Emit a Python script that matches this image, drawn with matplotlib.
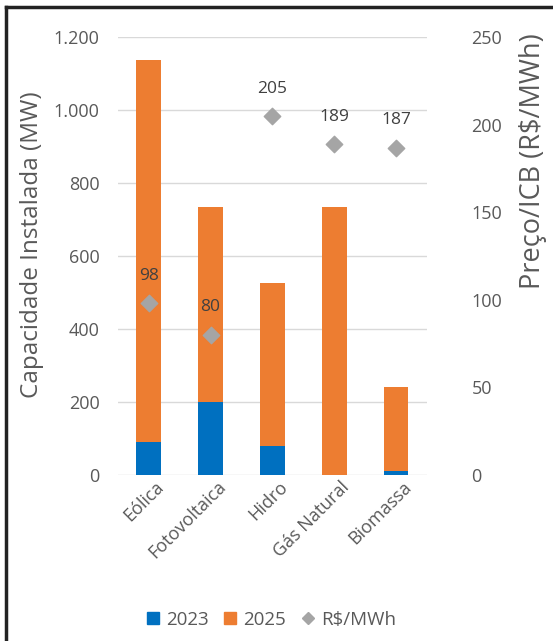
import matplotlib.pyplot as plt
import matplotlib.transforms as mtransforms
import numpy as np
from matplotlib.lines import Line2D

categorias = ["Eólica", "Fotovoltaica", "Hidro", "Gás Natural", "Biomassa"]
cap_2023 = [90, 200, 79, 0, 12]
cap_2025 = [1137, 734, 526, 734, 242]
preco = [98, 80, 205, 189, 187]

azul = "#0070C0"
laranja = "#ED7D31"
cinza = "#A5A5A5"
texto = "#595959"

plt.rcParams['font.family'] = ['Open Sans', 'DejaVu Sans']

fig = plt.figure(figsize=(5.53, 6.41), dpi=100)
ax = fig.add_axes([0.213, 0.259, 0.559, 0.683])
ax2 = ax.twinx()

x = np.arange(len(categorias))
largura = 0.4
ax.bar(x, cap_2025, largura, color=laranja, zorder=2, label="2025")
ax.bar(x, cap_2023, largura, color=azul, zorder=3, label="2023")

ax.set_ylim(0, 1200)
ax.set_xlim(-0.5, 4.5)
ax.set_yticks(range(0, 1201, 200))
ax.set_yticklabels(["0", "200", "400", "600", "800", "1.000", "1.200"])
ax.yaxis.grid(True, color="#D9D9D9", linewidth=1)
ax.set_axisbelow(True)
ax.set_xticks(x)
ax.set_xticklabels(categorias, rotation=45, ha="right", rotation_mode="anchor")
ax.tick_params(axis="y", length=0, labelsize=13, colors=texto, pad=13)
ax.tick_params(axis="x", length=0, labelsize=13, colors=texto, pad=2)
desloc = mtransforms.ScaledTranslation(6 / 100, 0, fig.dpi_scale_trans)
for lbl in ax.get_xticklabels():
    lbl.set_transform(lbl.get_transform() + desloc)
ax.set_ylabel("Capacidade Instalada (MW)", fontsize=17.5, color=texto)
ax.yaxis.set_label_coords(-0.239, 0.525)

ax2.scatter(x, preco, marker="D", s=70, color=cinza, zorder=4, label="R$/MWh")
for xi, p in zip(x, preco):
    ax2.annotate(str(p), (xi, p), xytext=(0, 14), textcoords="offset points",
                 ha="center", va="bottom", fontsize=12.5, color="#404040")
ax2.set_ylim(0, 250)
ax2.set_yticks(range(0, 251, 50))
ax2.tick_params(axis="y", length=0, labelsize=13, colors=texto, pad=32)
ax2.set_ylabel("Preço/ICB (R$/MWh)", fontsize=19.5, color=texto)
ax2.yaxis.set_label_coords(1.298, 0.717)

for a in (ax, ax2):
    for s in a.spines.values():
        s.set_visible(False)

handles = [
    Line2D([], [], marker="s", linestyle="", color=azul, markersize=8),
    Line2D([], [], marker="s", linestyle="", color=laranja, markersize=8),
    Line2D([], [], marker="D", linestyle="", color=cinza, markersize=6.5),
]
fig.legend(handles, ["2023", "2025", "R$/MWh"], loc="center", bbox_to_anchor=(0.49, 0.033),
           ncol=3, frameon=False, fontsize=13.5, handlelength=0.7, handletextpad=0.35,
           columnspacing=0.8, labelcolor=texto)

# moldura (só topo e esquerda visíveis)
fig.add_artist(Line2D([0.011, 1.0], [0.989, 0.989], color="#222222", linewidth=2.5))
fig.add_artist(Line2D([0.011, 0.011], [0.0, 0.989], color="#222222", linewidth=2.5))

fig.savefig("out.png", dpi=100)
